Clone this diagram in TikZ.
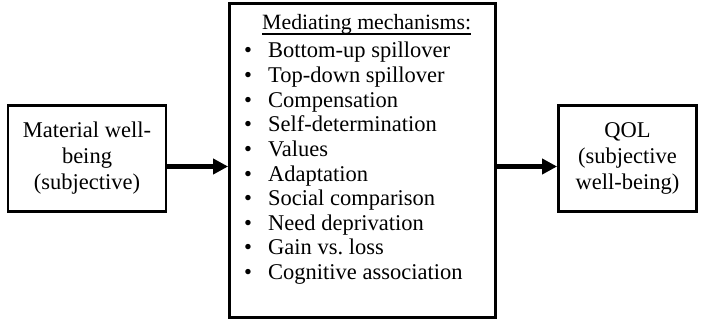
\documentclass[tikz,border=0pt]{standalone}
\usepackage{fontspec}
\setmainfont{Liberation Serif}
\usetikzlibrary{arrows.meta}
\begin{document}
\begin{tikzpicture}[x=1pt,y=-1pt,
  box/.style={draw, line width=2.8pt, inner sep=0pt, align=center,
    font=\fontsize{22.5}{26}\selectfont},
  flow/.style={line width=5pt, -{Triangle[length=15pt,width=15pt]}},
  itemtext/.style={anchor=base west, inner sep=0pt,
    font=\fontsize{22.5}{25}\selectfont}]
  \useasboundingbox (0,0) rectangle (703,321);

  % outer boxes
  \node[box, minimum width=158pt, minimum height=106pt] (lbox) at (87,158.5)
    {Material well-\\being\\(subjective)};
  \node[box, minimum width=266pt, minimum height=314pt] (mech) at (362.5,160.5) {};
  \node[box, minimum width=138pt, minimum height=106pt] (rbox) at (627.5,158.5)
    {QOL\\(subjective\\well-being)};

  % list of mediating mechanisms
  \node[itemtext, font=\fontsize{21.8}{25}\selectfont] (head) at (262,30)
    {Mediating mechanisms:};
  \draw[line width=1.4pt] ([yshift=-4pt]head.base west) -- ([yshift=-4pt]head.base east);
  \foreach \t [count=\i] in {Bottom-up spillover, Top-down spillover, Compensation,
      Self-determination, Values, Adaptation, Social comparison,
      Need deprivation, Gain vs.\ loss, Cognitive association}{
    \node[itemtext] (item\i) at (244,{58+24.6*(\i-1)})
      {\makebox[24pt][l]{\textbullet}\t};
  }

  % connectors
  \draw[flow] ([yshift=-8pt]lbox.east) -- ([yshift=-8pt]lbox.east -| mech.west);
  \draw[flow] ([yshift=-6pt]mech.east) -- ([yshift=-6pt]mech.east -| rbox.west);
\end{tikzpicture}
\end{document}
